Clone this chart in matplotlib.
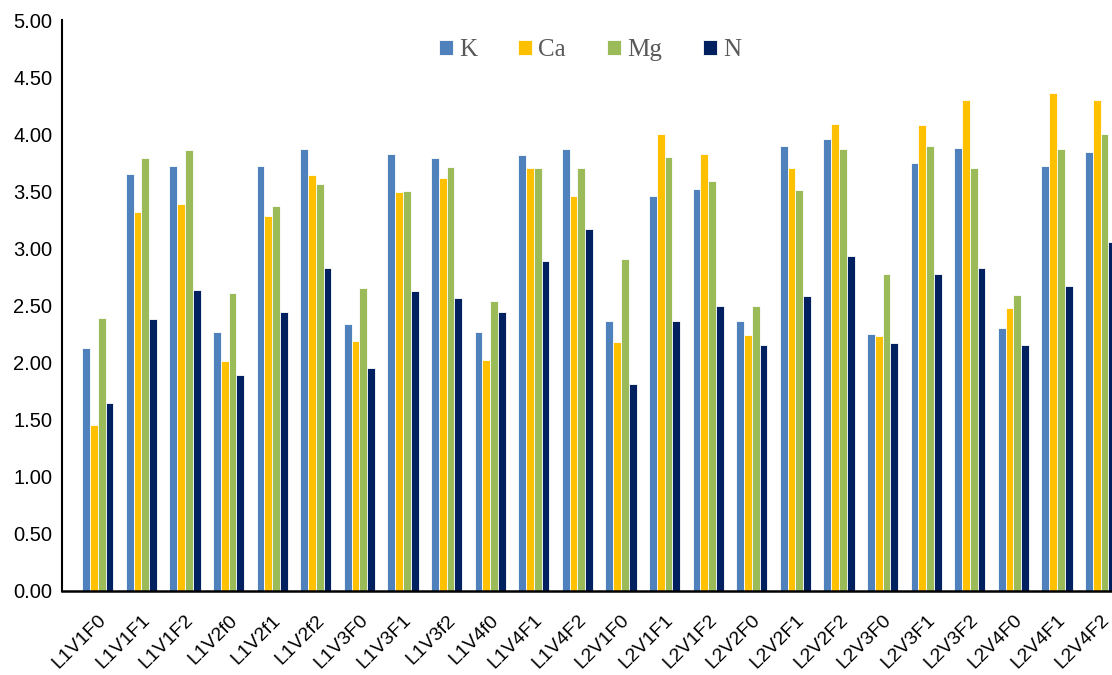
import numpy as np
import matplotlib
matplotlib.use('Agg')
import matplotlib.pyplot as plt

plt.rcParams['font.family'] = ['Liberation Sans', 'DejaVu Sans']

# 数据
labels = ['L1V1F0', 'L1V1F1', 'L1V1F2', 'L1V2f0', 'L1V2f1', 'L1V2f2', 'L1V3F0', 'L1V3F1',
          'L1V3f2', 'L1V4f0', 'L1V4F1', 'L1V4F2', 'L2V1F0', 'L2V1F1', 'L2V1F2', 'L2V2F0',
          'L2V2F1', 'L2V2F2', 'L2V3F0', 'L2V3F1', 'L2V3F2', 'L2V4F0', 'L2V4F1', 'L2V4F2']
K = [2.13, 3.65, 3.72, 2.27, 3.72, 3.87, 2.34, 3.83, 3.79, 2.27, 3.82, 3.87,
     2.36, 3.46, 3.52, 2.36, 3.90, 3.96, 2.25, 3.75, 3.88, 2.30, 3.72, 3.84]
Ca = [1.45, 3.32, 3.39, 2.01, 3.28, 3.64, 2.19, 3.49, 3.62, 2.02, 3.70, 3.46,
      2.18, 4.00, 3.83, 2.24, 3.70, 4.09, 2.23, 4.08, 4.30, 2.48, 4.36, 4.30]
Mg = [2.39, 3.79, 3.86, 2.61, 3.37, 3.56, 2.65, 3.50, 3.71, 2.54, 3.70, 3.70,
      2.91, 3.80, 3.59, 2.50, 3.51, 3.87, 2.78, 3.90, 3.70, 2.59, 3.87, 4.00]
N = [1.65, 2.38, 2.64, 1.89, 2.44, 2.83, 1.95, 2.63, 2.57, 2.44, 2.89, 3.17,
     1.81, 2.36, 2.50, 2.15, 2.58, 2.93, 2.17, 2.78, 2.83, 2.15, 2.67, 3.06]

series = [('K', K, '#4F81BD'), ('Ca', Ca, '#FFC000'), ('Mg', Mg, '#9BBB59'), ('N', N, '#002060')]

fig = plt.figure(figsize=(11.12, 6.75), dpi=100)
ax = fig.add_axes([62 / 1112, 84 / 675, 1 - 62 / 1112, 571 / 675])

x = np.arange(len(labels))
w = 0.179
for i, (name, vals, c) in enumerate(series):
    ax.bar(x + (i - 1.5) * w, vals, width=w, color=c, edgecolor='white', linewidth=0.6, label=name)

ax.set_xlim(-0.82, 23.26)
ax.set_ylim(0, 5)
ax.set_yticks(np.arange(0, 5.01, 0.5))
ax.set_yticklabels(['%.2f' % v for v in np.arange(0, 5.01, 0.5)], fontsize=14.5)
ax.set_xticks(x)
ax.set_xticklabels(labels, rotation=45, ha='right', rotation_mode='anchor', fontsize=14)
ax.tick_params(length=0, pad=7)
ax.tick_params(axis='x', pad=15)

for s in ['top', 'right']:
    ax.spines[s].set_visible(False)
ax.spines['left'].set_linewidth(1.5)
ax.spines['bottom'].set_linewidth(1.8)

leg = ax.legend(loc='center', bbox_to_anchor=(590 / 1112, 1 - 50 / 675), bbox_transform=fig.transFigure,
                ncol=4, frameon=False, borderpad=0,
                prop={'family': 'Liberation Serif', 'size': 18}, handlelength=0.56, handleheight=0.56,
                columnspacing=1.64, handletextpad=0.24)
for t in leg.get_texts():
    t.set_color('#595959')

plt.savefig('out.png', dpi=100)
